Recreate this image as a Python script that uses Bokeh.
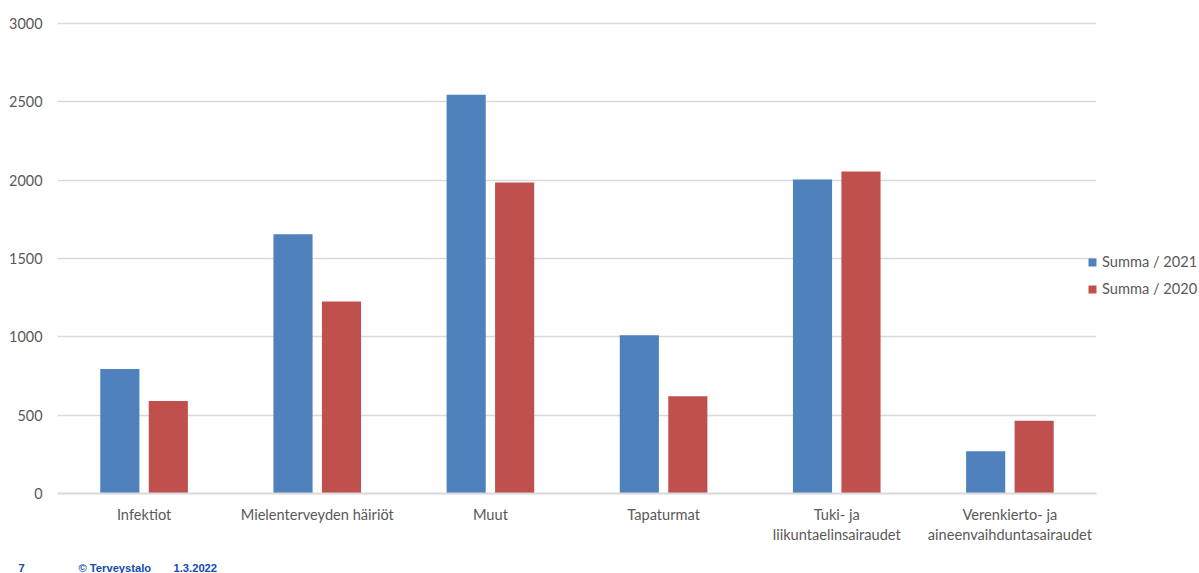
from bokeh.plotting import figure
from bokeh.layouts import column
from bokeh.models import ColumnDataSource, FactorRange, Range1d, Legend, LegendItem, FixedTicker
from bokeh.core.properties import value
from bokeh.transform import dodge
from bokeh.embed import file_html
from bokeh.resources import INLINE

categories = ["Infektiot", "Mielenterveyden häiriöt", "Muut", "Tapaturmat",
              "Tuki- ja\nliikuntaelinsairaudet", "Verenkierto- ja\naineenvaihduntasairaudet"]
summa_2021 = [795, 1655, 2545, 1010, 2005, 270]
summa_2020 = [590, 1225, 1985, 620, 2055, 465]
y_ticks = [0, 500, 1000, 1500, 2000, 2500, 3000]
footer_texts = ["7", "© Terveystalo", "1.3.2022"]

BLUE = "#4f81bd"
RED = "#c0504d"
TEXT = "#595959"
GRID = "#d9d9d9"
FOOT = "#0f4bb0"
FLAG = "#2e4a8c"

source = ColumnDataSource(dict(cat=categories, y2021=summa_2021, y2020=summa_2020))

p = figure(
    x_range=FactorRange(*categories, range_padding=0, factor_padding=0),
    # a little headroom above 3000 keeps the top gridline inside the frame
    y_range=Range1d(0, 3012.8),
    frame_width=1039, frame_height=472,
    min_border_left=57, min_border_right=103, min_border_top=21, min_border_bottom=57,
    output_backend="svg", toolbar_location=None,
    background_fill_color="white", border_fill_color="white",
)
p.outline_line_color = None

bar_w = 0.226
r21 = p.vbar(x=dodge("cat", -0.14, range=p.x_range), top="y2021", width=bar_w, bottom=0,
             source=source, fill_color=BLUE, line_color=None)
r20 = p.vbar(x=dodge("cat", 0.14, range=p.x_range), top="y2020", width=bar_w, bottom=0,
             source=source, fill_color=RED, line_color=None)

p.xgrid.visible = False
p.ygrid.grid_line_color = GRID
p.ygrid.grid_line_width = 1.5
p.ygrid.level = "underlay"
p.yaxis.ticker = FixedTicker(ticks=y_ticks)
p.yaxis.axis_line_color = None
p.yaxis.major_tick_line_color = None
p.yaxis.minor_tick_line_color = None
p.yaxis.major_label_text_font = "Lato"
p.yaxis.major_label_text_font_size = "14.4px"
p.yaxis.major_label_text_color = TEXT
p.yaxis.major_label_standoff = 9

p.xaxis.axis_line_color = GRID
p.xaxis.axis_line_width = 2
p.xaxis.major_tick_line_color = None
p.xaxis.minor_tick_line_color = None
p.xaxis.major_label_text_font = "Lato"
p.xaxis.major_label_text_font_size = "14.6px"
p.xaxis.major_label_text_color = TEXT
p.xaxis.major_label_standoff = 6
p.xaxis.major_label_orientation = "horizontal"

legend = Legend(
    items=[LegendItem(label="Summa / 2021", renderers=[r21]),
           LegendItem(label="Summa / 2020", renderers=[r20])],
    location=(-9, 196), orientation="vertical",
    border_line_color=None, background_fill_alpha=0,
    label_text_font="Lato", label_text_font_size="14.6px", label_text_color=TEXT,
    glyph_width=10, glyph_height=10, label_standoff=5,
    spacing=10, padding=0, margin=0,
)
p.add_layout(legend, "right")

# Footer strip: slide number, copyright and date, in page pixel coordinates.
# The negative margin cancels the column's alignment of this strip with the chart frame.
foot = figure(
    x_range=Range1d(0, 1199), y_range=Range1d(573, 550),
    frame_width=1199, frame_height=23,
    min_border_left=0, min_border_right=0, min_border_top=0, min_border_bottom=0,
    output_backend="svg", toolbar_location=None,
    x_axis_location=None, y_axis_location=None,
    background_fill_color="white", border_fill_color="white",
    margin=(0, 0, 0, -57),
)
foot.outline_line_color = None
foot.grid.visible = False
foot.text(x=[18, 78, 173], y=[567, 567, 567], text=footer_texts,
          text_font=value("Liberation Sans"), text_font_style="bold", text_font_size="11.2px",
          text_color=FOOT, text_baseline="middle")

# Narrow transparent strip laid over the footer's right end, carrying the flag
flag = figure(
    x_range=Range1d(1160, 1199), y_range=Range1d(573, 550),
    frame_width=39, frame_height=23,
    min_border_left=0, min_border_right=0, min_border_top=0, min_border_bottom=0,
    output_backend="svg", toolbar_location=None,
    x_axis_location=None, y_axis_location=None,
    background_fill_alpha=0, border_fill_alpha=0,
    margin=(-23, 0, 0, 1103),
)
flag.outline_line_color = None
flag.grid.visible = False
flag.quad(left=[1172], right=[1188], top=[555], bottom=[565],
          fill_color="#f4f5fa", line_color="#c5cbe0")
flag.quad(left=[1172, 1176.5, 1171], right=[1188, 1179.5, 1173],
          top=[558.7, 555, 553], bottom=[561.3, 565, 573],
          fill_color=FLAG, line_color=None)

open("out.html", "w").write(file_html(column(p, foot, flag, spacing=0), INLINE))
